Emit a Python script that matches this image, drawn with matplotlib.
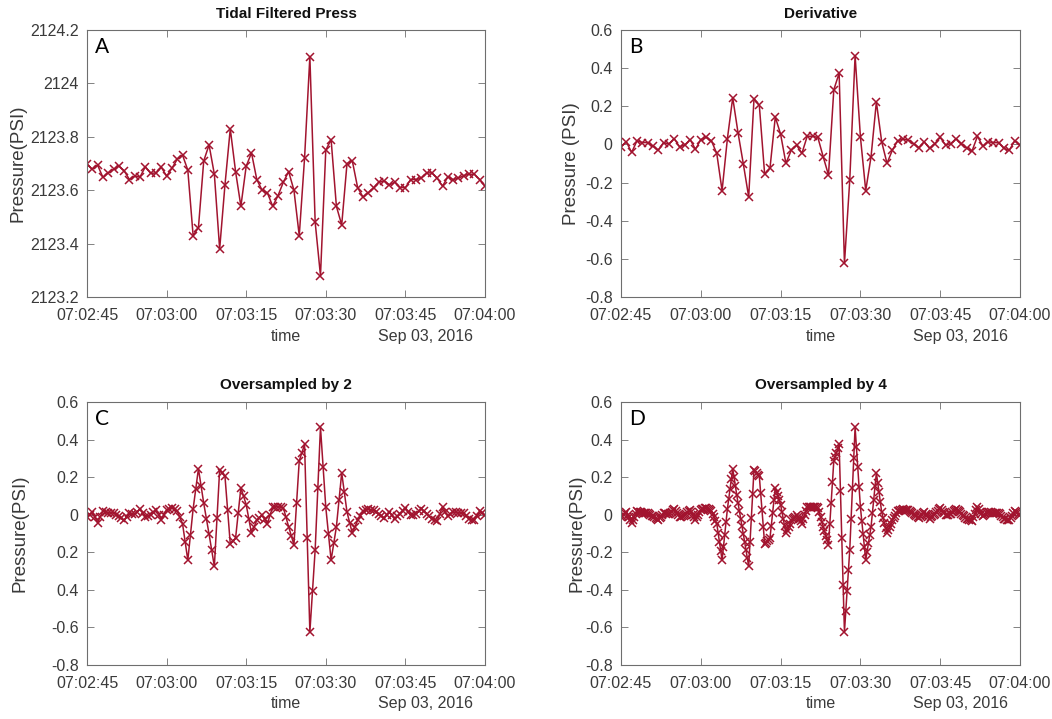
import datetime as dt

import matplotlib
matplotlib.use("Agg")
import matplotlib.dates as mdates
import matplotlib.pyplot as plt

plt.rcParams["font.family"] = ["Liberation Sans", "DejaVu Sans"]

# tidal filtered pressure, 1 sample per second from 07:02:45
press = [2123.698, 2123.678, 2123.694, 2123.648, 2123.665, 2123.678, 2123.691, 2123.673, 2123.640, 2123.653,
         2123.650, 2123.688, 2123.663, 2123.665, 2123.686, 2123.653, 2123.682, 2123.716, 2123.732, 2123.675,
         2123.430, 2123.460, 2123.710, 2123.770, 2123.660, 2123.380, 2123.620, 2123.830, 2123.670, 2123.540,
         2123.690, 2123.740, 2123.640, 2123.600, 2123.590, 2123.540, 2123.580, 2123.630, 2123.670, 2123.600,
         2123.430, 2123.720, 2124.100, 2123.480, 2123.280, 2123.750, 2123.790, 2123.540, 2123.470, 2123.700,
         2123.710, 2123.610, 2123.575, 2123.590, 2123.610, 2123.630, 2123.635, 2123.620, 2123.630, 2123.610,
         2123.610, 2123.640, 2123.640, 2123.645, 2123.665, 2123.665, 2123.645, 2123.615, 2123.650, 2123.640,
         2123.645, 2123.655, 2123.660, 2123.660, 2123.640, 2123.615]

# derivative, same time base
deriv = [-0.012, 0.014, -0.042, 0.019, 0.010, 0.010, -0.009, -0.030, 0.010, 0.002,
         0.031, -0.012, -0.003, 0.026, -0.026, 0.026, 0.037, 0.019, -0.047, -0.242,
         0.031, 0.245, 0.061, -0.103, -0.275, 0.240, 0.205, -0.155, -0.125, 0.144,
         0.054, -0.099, -0.030, -0.003, -0.047, 0.043, 0.043, 0.037, -0.064, -0.160,
         0.287, 0.374, -0.624, -0.186, 0.466, 0.040, -0.242, -0.064, 0.223, 0.014,
         -0.099, -0.030, 0.019, 0.028, 0.023, 0.002, -0.016, 0.014, -0.021, 0.005,
         0.037, -0.003, 0.005, 0.031, 0.005, -0.021, -0.033, 0.043, -0.009, 0.014,
         0.010, 0.009, -0.021, -0.030, 0.019, -0.003]

# oversampled by 2 (0.5 s)
over2 = [-0.012, 0.001, 0.014, -0.014, -0.042, -0.012, 0.019, 0.015, 0.010, 0.010,
         0.010, 0.000, -0.009, -0.020, -0.030, -0.010, 0.010, 0.006, 0.002, 0.017,
         0.031, 0.010, -0.012, -0.008, -0.003, 0.012, 0.026, 0.000, -0.026, 0.000,
         0.026, 0.032, 0.037, 0.028, 0.019, -0.014, -0.047, -0.145, -0.242, -0.106,
         0.031, 0.138, 0.245, 0.153, 0.061, -0.021, -0.103, -0.189, -0.275, -0.018,
         0.240, 0.223, 0.205, 0.025, -0.155, -0.140, -0.125, 0.010, 0.144, 0.099,
         0.054, -0.023, -0.099, -0.065, -0.030, -0.017, -0.003, -0.025, -0.047, -0.002,
         0.043, 0.043, 0.043, 0.040, 0.037, -0.014, -0.064, -0.112, -0.160, 0.064,
         0.287, 0.331, 0.374, -0.125, -0.624, -0.405, -0.186, 0.140, 0.466, 0.253,
         0.040, -0.101, -0.242, -0.153, -0.064, 0.080, 0.223, 0.119, 0.014, -0.043,
         -0.099, -0.065, -0.030, -0.006, 0.019, 0.024, 0.028, 0.026, 0.023, 0.013,
         0.002, -0.007, -0.016, -0.001, 0.014, -0.004, -0.021, -0.008, 0.005, 0.021,
         0.037, 0.017, -0.003, 0.001, 0.005, 0.018, 0.031, 0.018, 0.005, -0.008,
         -0.021, -0.027, -0.033, 0.005, 0.043, 0.017, -0.009, 0.003, 0.014, 0.012,
         0.010, 0.010, 0.009, -0.006, -0.021, -0.026, -0.030, -0.006, 0.019, 0.008,
         -0.003]

# oversampled by 4 (0.25 s)
over4 = [-0.012, -0.006, 0.001, 0.008, 0.014, 0.000, -0.014, -0.028, -0.042, -0.027,
         -0.012, 0.004, 0.019, 0.017, 0.015, 0.012, 0.010, 0.010, 0.010, 0.010,
         0.010, 0.005, 0.000, -0.005, -0.009, -0.014, -0.020, -0.025, -0.030, -0.020,
         -0.010, 0.000, 0.010, 0.008, 0.006, 0.004, 0.002, 0.009, 0.017, 0.024,
         0.031, 0.020, 0.010, -0.001, -0.012, -0.010, -0.008, -0.005, -0.003, 0.004,
         0.012, 0.019, 0.026, 0.013, 0.000, -0.013, -0.026, -0.013, 0.000, 0.013,
         0.026, 0.029, 0.032, 0.034, 0.037, 0.032, 0.028, 0.023, 0.019, 0.002,
         -0.014, -0.031, -0.047, -0.096, -0.145, -0.193, -0.242, -0.174, -0.106, -0.037,
         0.031, 0.084, 0.138, 0.191, 0.245, 0.199, 0.153, 0.107, 0.061, 0.020,
         -0.021, -0.062, -0.103, -0.146, -0.189, -0.232, -0.275, -0.146, -0.018, 0.111,
         0.240, 0.231, 0.223, 0.214, 0.205, 0.115, 0.025, -0.065, -0.155, -0.148,
         -0.140, -0.133, -0.125, -0.058, 0.010, 0.077, 0.144, 0.122, 0.099, 0.077,
         0.054, 0.016, -0.023, -0.061, -0.099, -0.082, -0.065, -0.048, -0.030, -0.024,
         -0.017, -0.010, -0.003, -0.014, -0.025, -0.036, -0.047, -0.025, -0.002, 0.021,
         0.043, 0.043, 0.043, 0.043, 0.043, 0.042, 0.040, 0.039, 0.037, 0.012,
         -0.014, -0.039, -0.064, -0.088, -0.112, -0.136, -0.160, -0.048, 0.064, 0.176,
         0.287, 0.309, 0.331, 0.353, 0.374, 0.125, -0.125, -0.375, -0.624, -0.515,
         -0.405, -0.296, -0.186, -0.023, 0.140, 0.303, 0.466, 0.360, 0.253, 0.147,
         0.040, -0.031, -0.101, -0.172, -0.242, -0.198, -0.153, -0.109, -0.064, 0.008,
         0.080, 0.152, 0.223, 0.171, 0.119, 0.067, 0.014, -0.015, -0.043, -0.071,
         -0.099, -0.082, -0.065, -0.048, -0.030, -0.018, -0.006, 0.007, 0.019, 0.021,
         0.024, 0.026, 0.028, 0.027, 0.026, 0.024, 0.023, 0.018, 0.013, 0.007,
         0.002, -0.002, -0.007, -0.011, -0.016, -0.008, -0.001, 0.007, 0.014, 0.005,
         -0.004, -0.012, -0.021, -0.014, -0.008, -0.001, 0.005, 0.013, 0.021, 0.029,
         0.037, 0.027, 0.017, 0.007, -0.003, -0.001, 0.001, 0.003, 0.005, 0.012,
         0.018, 0.025, 0.031, 0.025, 0.018, 0.012, 0.005, -0.002, -0.008, -0.015,
         -0.021, -0.024, -0.027, -0.030, -0.033, -0.014, 0.005, 0.024, 0.043, 0.030,
         0.017, 0.004, -0.009, -0.003, 0.003, 0.008, 0.014, 0.013, 0.012, 0.011,
         0.010, 0.010, 0.010, 0.009, 0.009, 0.002, -0.006, -0.014, -0.021, -0.023,
         -0.026, -0.028, -0.030, -0.018, -0.006, 0.007, 0.019, 0.013, 0.008, 0.003,
         -0.003]

titles = ["Tidal Filtered Press", "Derivative", "Oversampled by 2", "Oversampled by 4"]
letters = ["A", "B", "C", "D"]
ylabels = ["Pressure(PSI)", "Pressure (PSI)", "Pressure(PSI)", "Pressure(PSI)"]
press_ticks = [2123.2, 2123.4, 2123.6, 2123.8, 2124.0, 2124.2]
press_ticklabels = ["2123.2", "2123.4", "2123.6", "2123.8", "2124", "2124.2"]
deriv_ticks = [-0.8, -0.6, -0.4, -0.2, 0, 0.2, 0.4, 0.6]
deriv_ticklabels = ["-0.8", "-0.6", "-0.4", "-0.2", "0", "0.2", "0.4", "0.6"]
# panel C labels as printed (minus signs missing on two of them)
over2_ticklabels = ["-0.8", "-0.6", "0.4", "0.2", "0", "0.2", "0.4", "0.6"]

start = dt.datetime(2016, 9, 3, 7, 2, 45)
end = dt.datetime(2016, 9, 3, 7, 4, 0)


def times(n, step):
    return [start + dt.timedelta(seconds=k * step) for k in range(n)]


series = [
    (times(len(press), 1.0), press),
    (times(len(deriv), 1.0), deriv),
    (times(len(over2), 0.5), over2),
    (times(len(over4), 0.25), over4),
]

RED = "#A2142F"
GRAY = "#6e6e6e"
TXT = "#3a3a3a"

fig = plt.figure(figsize=(10.52, 7.19), dpi=100)
boxes = [
    [0.0827, 0.5869, 0.3783, 0.3713],
    [0.5903, 0.5869, 0.3793, 0.3713],
    [0.0827, 0.0751, 0.3783, 0.3658],
    [0.5903, 0.0751, 0.3793, 0.3658],
]
ylab_x = [-0.151, -0.103, -0.146, -0.09]

for i, (box, (t, v)) in enumerate(zip(boxes, series)):
    ax = fig.add_axes(box)
    ax.plot(t, v, color=RED, lw=1.1, marker="x", ms=6, mew=1.1)
    ax.set_xlim(start, end)
    if i == 0:
        ax.set_ylim(2123.2, 2124.2)
        ax.set_yticks(press_ticks)
        ax.set_yticklabels(press_ticklabels)
    else:
        ax.set_ylim(-0.8, 0.6)
        ax.set_yticks(deriv_ticks)
        ax.set_yticklabels(over2_ticklabels if i == 2 else deriv_ticklabels)
    ax.xaxis.set_major_locator(mdates.SecondLocator(bysecond=[0, 15, 30, 45]))
    ax.xaxis.set_major_formatter(mdates.DateFormatter("%H:%M:%S"))
    ax.tick_params(direction="in", length=5, width=0.6, color=GRAY,
                   labelcolor=TXT, labelsize=11.5, top=True, right=True)
    ax.tick_params(axis="x", pad=8)
    ax.tick_params(axis="y", pad=6)
    for s in ax.spines.values():
        s.set_color(GRAY)
        s.set_linewidth(0.8)
    ax.set_title(titles[i], fontsize=11, fontweight="bold", color="#111111", pad=9)
    ax.set_ylabel(ylabels[i], fontsize=13.5, color=TXT)
    ax.yaxis.set_label_coords(ylab_x[i], 0.5)
    ax.set_xlabel("time", fontsize=11.5, color=TXT)
    ax.xaxis.set_label_coords(0.5, -0.118)
    ax.text(0.97, -0.148, "Sep 03, 2016", transform=ax.transAxes, ha="right",
            va="center", fontsize=11.5, color=TXT)
    ax.text(0.02, 0.975, letters[i], transform=ax.transAxes, ha="left", va="top",
            fontsize=15, color="black", family=["Lato", "DejaVu Sans"])

fig.savefig("out.png", dpi=100)
